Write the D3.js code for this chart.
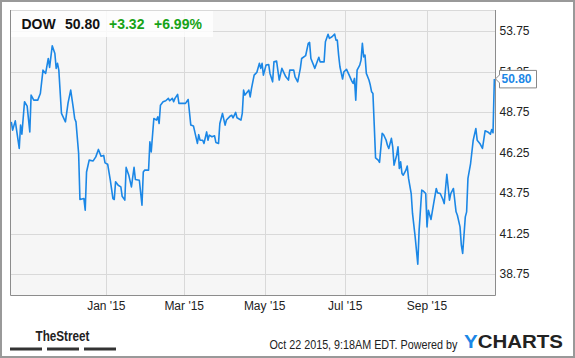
<!DOCTYPE html>
<html lang="en">
<head>
    <meta charset="UTF-8">
    <title>DOW price chart</title>
    <script src="https://cdn.jsdelivr.net/npm/d3@7"></script>
    <style>
        body { margin: 0; background: #fff; }
        text { font-family: "Liberation Sans", Arial, sans-serif; }
    </style>
</head>
<body>
<div id="chart"></div>
<script>
    // Daily closes
    const dates = [
        "2014-10-21","2014-10-22","2014-10-24","2014-10-25","2014-10-27","2014-10-28","2014-10-29","2014-10-31",
        "2014-11-02","2014-11-04","2014-11-05","2014-11-07","2014-11-10","2014-11-12","2014-11-14","2014-11-16",
        "2014-11-18","2014-11-19","2014-11-21","2014-11-23","2014-11-24","2014-11-25","2014-11-26","2014-11-28",
        "2014-12-01","2014-12-03","2014-12-05","2014-12-07","2014-12-08","2014-12-09","2014-12-11","2014-12-12",
        "2014-12-15","2014-12-16","2014-12-17","2014-12-19","2014-12-22","2014-12-24","2014-12-26","2014-12-28",
        "2014-12-30","2014-12-31",
        "2015-01-02","2015-01-04","2015-01-06","2015-01-07","2015-01-08","2015-01-10","2015-01-12","2015-01-13",
        "2015-01-15","2015-01-16","2015-01-18","2015-01-20","2015-01-22","2015-01-23","2015-01-26","2015-01-28",
        "2015-01-29","2015-01-30",
        "2015-02-02","2015-02-03","2015-02-04","2015-02-06","2015-02-08","2015-02-09","2015-02-10","2015-02-11",
        "2015-02-13","2015-02-15","2015-02-17","2015-02-18","2015-02-20","2015-02-21","2015-02-22","2015-02-24",
        "2015-02-25","2015-02-28",
        "2015-03-02","2015-03-04","2015-03-06","2015-03-08","2015-03-11","2015-03-12","2015-03-13","2015-03-15",
        "2015-03-16","2015-03-18","2015-03-19","2015-03-20","2015-03-22","2015-03-24","2015-03-25","2015-03-27",
        "2015-03-28","2015-03-30",
        "2015-04-01","2015-04-02","2015-04-05","2015-04-06","2015-04-07","2015-04-09","2015-04-10","2015-04-11",
        "2015-04-13","2015-04-14","2015-04-15","2015-04-16","2015-04-18","2015-04-19","2015-04-20","2015-04-21",
        "2015-04-23","2015-04-25","2015-04-27","2015-04-28","2015-04-29","2015-04-30",
        "2015-05-02","2015-05-04","2015-05-05","2015-05-07","2015-05-08","2015-05-10","2015-05-12","2015-05-14",
        "2015-05-17","2015-05-19","2015-05-20","2015-05-23","2015-05-24","2015-05-26","2015-05-28","2015-05-29",
        "2015-06-01","2015-06-03","2015-06-04","2015-06-05","2015-06-08","2015-06-09","2015-06-11","2015-06-12",
        "2015-06-15","2015-06-16","2015-06-18","2015-06-19","2015-06-21","2015-06-23","2015-06-24","2015-06-25",
        "2015-06-26","2015-06-27","2015-06-29","2015-06-30",
        "2015-07-02","2015-07-04","2015-07-06","2015-07-07","2015-07-08","2015-07-09","2015-07-10","2015-07-12",
        "2015-07-13","2015-07-14","2015-07-15","2015-07-16","2015-07-17","2015-07-19","2015-07-20","2015-07-21",
        "2015-07-22","2015-07-23","2015-07-24","2015-07-26","2015-07-27","2015-07-29","2015-07-30",
        "2015-08-01","2015-08-02","2015-08-03","2015-08-05","2015-08-06","2015-08-07","2015-08-09","2015-08-10",
        "2015-08-11","2015-08-12","2015-08-13","2015-08-14","2015-08-16","2015-08-17","2015-08-18","2015-08-20",
        "2015-08-21","2015-08-23","2015-08-25","2015-08-26","2015-08-28","2015-08-29","2015-08-31",
        "2015-09-01","2015-09-02","2015-09-04","2015-09-06","2015-09-08","2015-09-09","2015-09-11","2015-09-13",
        "2015-09-14","2015-09-16","2015-09-18","2015-09-19","2015-09-21","2015-09-23","2015-09-24","2015-09-26",
        "2015-09-27","2015-09-28","2015-09-30",
        "2015-10-01","2015-10-02","2015-10-04","2015-10-06","2015-10-08","2015-10-09","2015-10-11","2015-10-13",
        "2015-10-15","2015-10-17","2015-10-19","2015-10-20","2015-10-21","2015-10-22"
    ];
    const closes = [
        48.15,47.64,48.21,47.64,46.51,47.95,47.39,49.39,
        49.12,47.53,49.80,49.49,49.49,49.90,51.34,51.14,
        52.06,51.51,52.84,52.37,51.45,51.76,51.34,48.67,
        48.15,49.32,50.11,48.98,48.36,48.15,46.20,43.36,
        43.42,42.70,45.06,45.79,45.74,45.99,46.45,46.03,
        46.08,45.62,
        45.54,44.55,43.42,43.36,44.45,44.24,44.14,43.56,
        43.32,45.34,44.86,44.14,45.34,44.60,44.55,43.01,
        45.06,45.17,
        45.17,46.92,46.30,48.36,48.26,48.46,48.05,49.18,
        49.39,49.45,49.60,49.45,49.60,49.39,49.60,49.84,
        49.29,49.29,
        49.29,49.53,47.95,47.90,46.82,47.36,47.02,47.02,
        46.82,47.53,47.02,47.33,47.23,47.29,46.88,46.82,
        48.05,48.67,
        47.95,48.26,48.52,48.56,48.40,48.73,48.40,48.36,
        48.26,48.67,50.11,49.80,50.00,50.11,49.69,50.21,
        51.03,51.20,51.76,51.45,51.76,51.03,
        51.65,51.69,51.14,50.62,51.85,51.90,50.73,51.45,
        50.93,50.73,51.34,51.34,50.93,50.62,51.45,52.06,
        52.23,52.99,53.05,52.06,51.45,51.69,52.13,51.85,
        51.85,53.09,53.55,53.30,53.40,53.56,53.19,53.19,
        52.27,51.55,50.79,51.24,
        51.39,51.03,50.66,50.52,50.83,49.49,51.34,51.65,
        51.96,52.99,52.16,52.27,51.14,50.73,50.42,50.00,
        49.90,47.95,45.93,45.79,45.65,47.44,47.37,
        47.02,46.71,46.51,47.13,46.61,45.48,46.10,46.61,
        45.27,45.68,44.97,44.86,45.17,45.42,44.66,43.73,
        42.50,41.05,39.37,41.47,43.94,43.89,43.73,
        41.67,42.70,42.13,43.11,44.04,43.77,43.73,43.36,
        43.11,44.92,43.32,43.73,44.04,42.60,42.39,41.67,
        40.54,40.03,42.29,
        42.60,44.66,45.58,47.02,47.74,47.02,46.82,46.51,
        47.60,47.53,47.39,47.68,47.48,50.80
    ];

    // Axis ticks
    const yTicks = [38.75, 41.25, 43.75, 46.25, 48.75, 51.25, 53.75];
    const xTicks = ["2015-01-01", "2015-03-01", "2015-05-01", "2015-07-01", "2015-09-01"];

    // Header quote
    const ticker = "DOW";
    const lastPrice = "50.80";
    const change = "+3.32";
    const changePct = "+6.99%";

    const parse = d3.timeParse("%Y-%m-%d");
    const data = dates.map((d, i) => ({ date: parse(d), close: closes[i] }));

    const W = 575, H = 358;
    const plot = { left: 10, top: 10, right: 495, bottom: 295 };

    const svg = d3.select("#chart")
        .append("svg")
        .attr("width", W)
        .attr("height", H);

    // outer frame
    svg.append("rect")
        .attr("x", 1).attr("y", 1)
        .attr("width", W - 2).attr("height", H - 2)
        .attr("fill", "#fff")
        .attr("stroke", "#999")
        .attr("stroke-width", 2);

    const x = d3.scaleTime()
        .domain([new Date(2014, 9, 20), new Date(2015, 9, 22, 12)])
        .range([plot.left, plot.right]);

    const y = d3.scaleLinear()
        .domain([37.47, 55.05])
        .range([plot.bottom, plot.top]);

    // plot background
    svg.append("rect")
        .attr("x", plot.left).attr("y", plot.top)
        .attr("width", plot.right - plot.left)
        .attr("height", plot.bottom - plot.top)
        .attr("fill", "#f6f6f6");

    // grid
    svg.append("g")
        .selectAll("line.h")
        .data(yTicks.concat([55.05]))
        .enter().append("line")
        .attr("x1", plot.left).attr("x2", plot.right)
        .attr("y1", d => Math.round(y(d)) + 0.5)
        .attr("y2", d => Math.round(y(d)) + 0.5)
        .attr("stroke", "#d9d9d9");

    svg.append("g")
        .selectAll("line.v")
        .data(xTicks.map(parse))
        .enter().append("line")
        .attr("x1", d => Math.round(x(d)) + 0.5)
        .attr("x2", d => Math.round(x(d)) + 0.5)
        .attr("y1", plot.top).attr("y2", plot.bottom)
        .attr("stroke", "#d9d9d9");

    // plot border (left, bottom, right)
    svg.append("path")
        .attr("d", `M${plot.left + 0.5},${plot.top}V${plot.bottom + 0.5}H${plot.right + 0.5}V${plot.top}`)
        .attr("fill", "none")
        .attr("stroke", "#8c8c8c");

    // price line
    const line = d3.line()
        .x(d => x(d.date))
        .y(d => y(d.close));

    svg.append("path")
        .datum(data)
        .attr("d", line)
        .attr("fill", "none")
        .attr("stroke", "#1b87e6")
        .attr("stroke-width", 1.6)
        .attr("stroke-linejoin", "round");

    // y labels on the right
    svg.append("g")
        .selectAll("text")
        .data(yTicks)
        .enter().append("text")
        .attr("x", 499.5)
        .attr("y", d => y(d))
        .attr("dy", "0.35em")
        .attr("font-size", 12)
        .attr("fill", "#222")
        .text(d => d.toFixed(2));

    // x labels
    svg.append("g")
        .selectAll("text")
        .data(xTicks.map(parse))
        .enter().append("text")
        .attr("x", d => x(d))
        .attr("y", 310)
        .attr("text-anchor", "middle")
        .attr("font-size", 12)
        .attr("fill", "#222")
        .text(d3.timeFormat("%b '%y"));

    // last value callout (covers the 51.25 label, as in the original)
    const last = data[data.length - 1];
    const ly = y(last.close);
    svg.append("path")
        .attr("d", `M${plot.right + 0.5},${ly}L${499.5},${ly - 4}V${ly - 8.5}H${536.5}V${ly + 9}H${499.5}V${ly + 4}Z`)
        .attr("fill", "#fff")
        .attr("stroke", "#888");
    svg.append("text")
        .attr("x", 501.5)
        .attr("y", ly)
        .attr("dy", "0.37em")
        .attr("font-size", 12)
        .attr("font-weight", "bold")
        .attr("fill", "#1b87e6")
        .text(last.close.toFixed(2));

    // header quote box
    svg.append("rect")
        .attr("x", plot.left + 1).attr("y", plot.top + 1)
        .attr("width", 202).attr("height", 26)
        .attr("fill", "#fff")
        .attr("opacity", 0.8);

    const head = [
        { t: ticker, x: 21.5, c: "#111" },
        { t: lastPrice, x: 65, c: "#111" },
        { t: change, x: 109, c: "#17a317" },
        { t: changePct, x: 154, c: "#17a317" }
    ];
    svg.append("g")
        .selectAll("text")
        .data(head)
        .enter().append("text")
        .attr("x", d => d.x)
        .attr("y", 28.5)
        .attr("font-size", 14)
        .attr("font-weight", "bold")
        .attr("fill", d => d.c)
        .text(d => d.t);

    // squeeze/stretch a text horizontally to a given width
    function fitWidth(sel, x0, y0, w) {
        const natural = sel.node().getComputedTextLength();
        sel.attr("transform", `translate(${x0},${y0}) scale(${w / natural},1)`);
    }

    // footer: TheStreet logo
    const street = svg.append("text")
        .attr("font-size", 15)
        .attr("font-weight", "bold")
        .attr("fill", "#222")
        .text("TheStreet");
    fitWidth(street, 35.5, 341, 54);

    svg.append("g")
        .selectAll("rect")
        .data([[10, 42], [47, 79], [84, 116]])
        .enter().append("rect")
        .attr("x", d => d[0])
        .attr("y", 347.5)
        .attr("width", d => d[1] - d[0])
        .attr("height", 3)
        .attr("fill", "#333");

    // timestamp
    const stamp = svg.append("text")
        .attr("font-size", 12)
        .attr("fill", "#222")
        .text("Oct 22 2015, 9:18AM EDT.  Powered by");
    fitWidth(stamp, 269.5, 349.3, 188);

    // YCHARTS logo
    const yc = svg.append("text")
        .attr("font-size", 18.5)
        .attr("font-weight", "bold");
    yc.append("tspan").attr("fill", "#1b87e6").text("Y");
    yc.append("tspan").attr("fill", "#222").text("CHARTS");
    fitWidth(yc, 464, 348.3, 99);
</script>
</body>
</html>
